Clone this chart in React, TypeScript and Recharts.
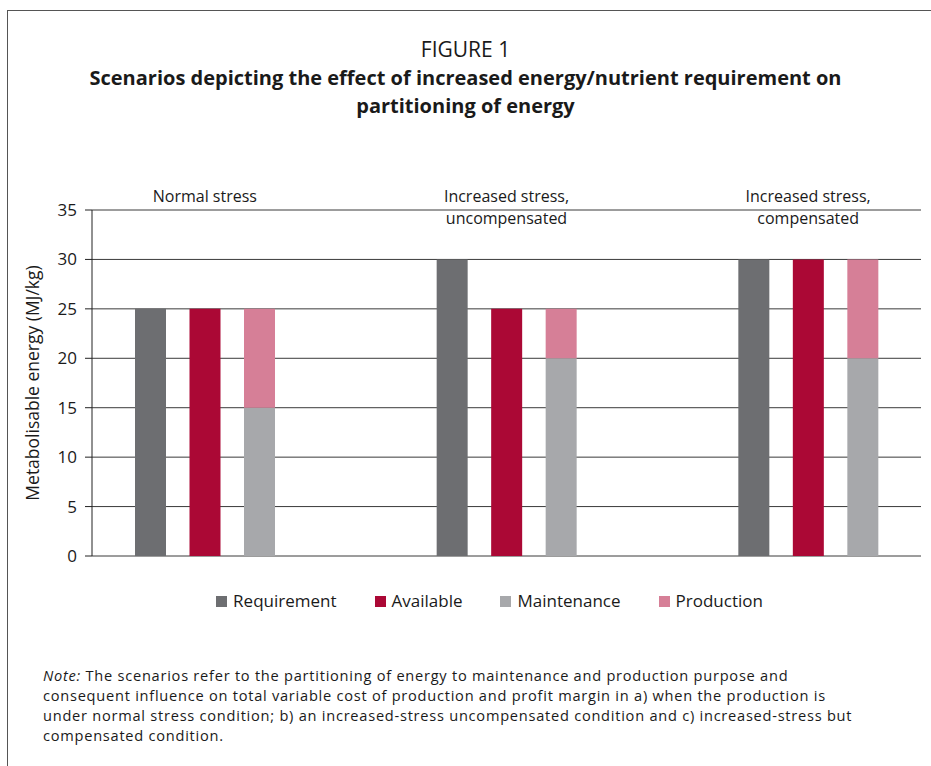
import React from 'react';
import {
  BarChart,
  Bar,
  XAxis,
  YAxis,
  CartesianGrid,
  Legend,
} from 'recharts';

const FONT = '"Open Sans", "Noto Sans", sans-serif';

const scenarios = ['Normal stress', 'Increased stress,\nuncompensated', 'Increased stress,\ncompensated'];
const requirement = [25, 30, 30];
const available = [25, 25, 30];
const maintenance = [15, 20, 20];
const production = [10, 5, 10];
const yTicks = [0, 5, 10, 15, 20, 25, 30, 35];

const SERIES = [
  { key: 'Requirement', color: '#6d6e71', stack: 'req' },
  { key: 'Available', color: '#ab0835', stack: 'avail' },
  { key: 'Maintenance', color: '#a7a8ab', stack: 'part' },
  { key: 'Production', color: '#d67f97', stack: 'part' },
];

const NOTE_LINES = [
  'consequent influence on total variable cost of production and profit margin in a) when the production is',
  'under normal stress condition; b) an increased-stress uncompensated condition and c) increased-stress but',
  'compensated condition.',
];

const data = scenarios.map((name, i) => ({
  name,
  Requirement: requirement[i],
  Available: available[i],
  Maintenance: maintenance[i],
  Production: production[i],
}));

const ScenarioTick = (props: any) => {
  const { x, y, payload } = props;
  const lines = String(payload.value).split('\n');
  return (
    <g>
      {lines.map((line, i) => (
        <text
          key={i}
          x={x}
          y={y + (i === 0 ? -8 : 14)}
          textAnchor="middle"
          fontSize={16}
          fontFamily={FONT}
          fill="#1a1a1a"
        >
          {line}
        </text>
      ))}
    </g>
  );
};

const LegendContent = () => (
  <div
    style={{
      height: 74,
      paddingTop: 16,
      paddingLeft: 38,
      boxSizing: 'border-box',
      display: 'flex',
      justifyContent: 'center',
      gap: 38,
      fontFamily: FONT,
      fontSize: 17,
      color: '#1a1a1a',
    }}
  >
    {SERIES.map((s) => (
      <div key={s.key} style={{ display: 'flex', alignItems: 'center', lineHeight: '20px' }}>
        <span style={{ width: 11, height: 11, background: s.color, marginRight: 6, display: 'inline-block' }} />
        {s.key}
      </div>
    ))}
  </div>
);

export default function App() {
  return (
    <div style={{ position: 'absolute', left: 0, top: 0, width: 931, height: 766, background: '#fff', overflow: 'hidden' }}>
      <div
        style={{
          position: 'absolute',
          left: 7,
          top: 10,
          width: 924,
          height: 756,
          borderLeft: '1px solid #555',
          borderTop: '1px solid #555',
        }}
      />
      <div
        style={{
          position: 'absolute',
          left: 0,
          top: 36,
          width: 931,
          textAlign: 'center',
          fontFamily: FONT,
          color: '#1a1a1a',
        }}
      >
        <div style={{ fontSize: 21, lineHeight: '26px' }}>FIGURE 1</div>
        <div style={{ fontSize: 20, fontWeight: 700, lineHeight: '28px', marginTop: 2 }}>
          Scenarios depicting the effect of increased energy/nutrient requirement on
          <br />
          partitioning of energy
        </div>
      </div>

      <div style={{ position: 'absolute', left: 0, top: 150 }}>
        <BarChart
          width={931}
          height={480}
          data={data}
          margin={{ top: 30, right: 10, bottom: 0, left: 20 }}
          barSize={31}
          barGap={23.5}
        >
          <CartesianGrid vertical={false} stroke="#3a3a3a" />
          <XAxis
            dataKey="name"
            orientation="top"
            height={30}
            axisLine={false}
            tickLine={false}
            tickSize={0}
            tickMargin={0}
            interval={0}
            padding={{ left: -38, right: -38 }}
            tick={<ScenarioTick />}
          />
          <YAxis
            domain={[0, 35]}
            ticks={yTicks}
            width={72}
            tickSize={7}
            tickMargin={8}
            axisLine={{ stroke: '#222' }}
            tickLine={{ stroke: '#222' }}
            tick={{ fontSize: 17, fontFamily: FONT, fill: '#1a1a1a' }}
            label={{
              value: 'Metabolisable energy (MJ/kg)',
              angle: -90,
              position: 'insideLeft',
              offset: 13,
              style: { textAnchor: 'middle', fontSize: 17.5, fontFamily: FONT, fill: '#1a1a1a' },
            }}
          />
          <Legend verticalAlign="bottom" content={<LegendContent />} />
          {SERIES.map((s) => (
            <Bar key={s.key} dataKey={s.key} stackId={s.stack} fill={s.color} isAnimationActive={false} />
          ))}
        </BarChart>
      </div>

      <div
        style={{
          position: 'absolute',
          left: 43,
          top: 665,
          width: 880,
          fontFamily: FONT,
          fontSize: 14.6,
          letterSpacing: 0.75,
          lineHeight: '20px',
          color: '#1a1a1a',
          whiteSpace: 'nowrap',
        }}
      >
        <div>
          <i>Note:</i> The scenarios refer to the partitioning of energy to maintenance and production purpose and
        </div>
        {NOTE_LINES.map((line) => (
          <div key={line}>{line}</div>
        ))}
      </div>
    </div>
  );
}
